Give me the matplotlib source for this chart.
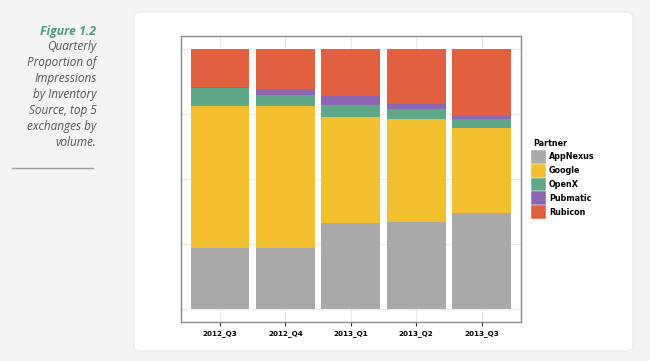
import matplotlib
matplotlib.use('Agg')
import matplotlib.pyplot as plt
import numpy as np
from matplotlib.patches import FancyBboxPatch, Rectangle
from matplotlib.lines import Line2D

quarters = ['2012_Q3', '2012_Q4', '2013_Q1', '2013_Q2', '2013_Q3']
partners = ['AppNexus', 'Google', 'OpenX', 'Pubmatic', 'Rubicon']
appnexus = [23.4, 23.4, 32.8, 33.2, 36.8]
google = [54.5, 54.5, 40.9, 39.9, 32.6]
openx = [6.8, 4.3, 4.6, 3.7, 3.4]
pubmatic = [0.5, 2.2, 3.6, 2.1, 1.3]
rubicon = [14.8, 15.6, 18.1, 21.1, 25.9]
colors = ['#a9a9a9', '#f2bf2f', '#5fa887', '#8c66b0', '#e0603f']

W, H = 650, 361
fig = plt.figure(figsize=(W / 100, H / 100), dpi=100)
fig.patch.set_facecolor('#f4f4f6')

# white card
card = FancyBboxPatch((134 / W, 1 - 351 / H), 499 / W, 339 / H,
                      boxstyle='round,pad=0,rounding_size=0.012',
                      transform=fig.transFigure, facecolor='white',
                      edgecolor='#ececee', linewidth=1, zorder=-5)
fig.patches.append(card)

# caption on the left
fig.text(96 / W, 1 - 31.7 / H, 'Figure 1.2', ha='right', va='center',
         fontsize=8.8, fontweight='bold', style='italic', color='#4f9c7b',
         family=['Open Sans', 'DejaVu Sans'])
caption = ['Quarterly', 'Proportion of', 'Impressions', 'by Inventory',
           'Source, top 5', 'exchanges by', 'volume.']
for i, line in enumerate(caption):
    fig.text(96.5 / W, 1 - (46.7 + i * 16) / H, line, ha='right', va='center',
             fontsize=8.5, style='italic', color='#555555',
             family=['Open Sans', 'DejaVu Sans'])
fig.add_artist(Line2D([12 / W, 93 / W], [1 - 167.5 / H, 1 - 167.5 / H],
                      transform=fig.transFigure, color='#a0a0a0', linewidth=1))

# stacked bars
ax = fig.add_axes([180.7 / W, 1 - 321.7 / H, 340.3 / W, 286 / H])
ax.set_zorder(3)
series = [appnexus, google, openx, pubmatic, rubicon]
x = np.arange(1, len(quarters) + 1)
totals = np.sum(series, axis=0)
bottom = np.zeros(len(quarters))
for vals, c in zip(series, colors):
    frac = np.array(vals) / totals
    ax.bar(x, frac, 0.9, bottom=bottom, color=c, linewidth=0, zorder=2)
    bottom += frac

ax.set_xlim(0.4, 5.6)
ax.set_ylim(-0.05, 1.05)
ax.set_xticks(x)
ax.set_xticklabels(quarters, fontsize=5.2, fontweight='bold')
ax.set_yticks([0, 0.25, 0.5, 0.75, 1.0])
ax.tick_params(axis='y', length=0, labelleft=False)
ax.tick_params(axis='x', length=3, width=0.8, color='#333333', pad=3)
ax.grid(True, color='#ebebeb', linewidth=0.8, zorder=0)
ax.set_axisbelow(True)
for s in ax.spines.values():
    s.set_color('#8a8a8a')
    s.set_linewidth(1)

# legend
fig.text(533 / W, 1 - 144 / H, 'Partner', ha='left', va='center',
         fontsize=5.8, fontweight='bold')
for i, (name, c) in enumerate(zip(partners, colors)):
    top = 150 + i * 13.8
    fig.patches.append(Rectangle((531 / W, 1 - (top + 13.8) / H), 15 / W, 13.8 / H,
                                 transform=fig.transFigure, facecolor=c,
                                 edgecolor='white', linewidth=0.3))
    fig.text(549 / W, 1 - (top + 6.9) / H, name, ha='left', va='center',
             fontsize=5.8, fontweight='bold')

fig.savefig('out.png', dpi=100, facecolor=fig.get_facecolor())
